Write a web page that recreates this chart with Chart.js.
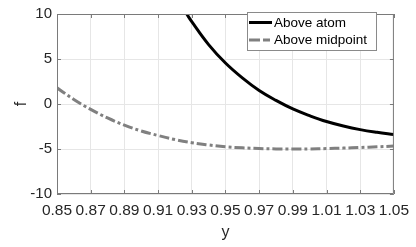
<!DOCTYPE html>
<html>
<head>
<meta charset="utf-8">
<script src="https://cdn.jsdelivr.net/npm/chart.js@4.4.1/dist/chart.umd.min.js"></script>
<style>
  body { margin: 0; background: #fff; }
  #wrap { width: 416px; height: 247px; }
</style>
</head>
<body>
<div id="wrap"><canvas id="chart"></canvas></div>
<script>
// values
const atomY = [0.927, 0.93, 0.94, 0.95, 0.96, 0.97, 0.98, 0.99, 1.00, 1.01, 1.02, 1.03, 1.04, 1.05];
const atomF = [10, 9.15, 6.6, 4.55, 2.9, 1.5, 0.4, -0.55, -1.3, -1.95, -2.45, -2.85, -3.15, -3.4];
const midY = [0.85, 0.86, 0.87, 0.88, 0.89, 0.90, 0.91, 0.92, 0.93, 0.94, 0.95, 0.96, 0.97, 0.98, 0.99, 1.00, 1.01, 1.02, 1.03, 1.04, 1.05];
const midF = [1.8, 0.5, -0.6, -1.55, -2.35, -3.0, -3.5, -3.95, -4.3, -4.55, -4.75, -4.87, -4.95, -4.99, -5.0, -4.99, -4.95, -4.9, -4.83, -4.76, -4.68];
const xTicks = [0.85, 0.87, 0.89, 0.91, 0.93, 0.95, 0.97, 0.99, 1.01, 1.03, 1.05];
const yTicks = [-10, -5, 0, 5, 10];
const seriesNames = ['Above atom', 'Above midpoint'];

const axisColor = '#7a7a7a';
const textColor = '#262626';
const font = 'Arial, "Liberation Sans", sans-serif';

function pts(xs, ys) {
    return xs.map((x, i) => ({ x: x, y: ys[i] }));
}

// box round the plot, inward ticks, legend
const boxPlugin = {
    id: 'box',
    afterDatasetsDraw(chart) {
        const ctx = chart.ctx;
        const a = chart.chartArea;
        const xs = chart.scales.x, ys = chart.scales.y;
        ctx.save();
        ctx.lineWidth = 1;
        ctx.strokeStyle = axisColor;
        ctx.beginPath();
        ctx.moveTo(a.left + 0.5, a.top + 0.5);
        ctx.lineTo(a.right - 0.5, a.top + 0.5);
        ctx.lineTo(a.right - 0.5, a.bottom - 0.5);
        ctx.lineTo(a.left + 0.5, a.bottom - 0.5);
        ctx.closePath();
        ctx.stroke();
        ctx.beginPath();
        xTicks.forEach(v => {
            const px = Math.round(xs.getPixelForValue(v)) + 0.5;
            ctx.moveTo(px, a.bottom); ctx.lineTo(px, a.bottom - 4);
            ctx.moveTo(px, a.top); ctx.lineTo(px, a.top + 4);
        });
        yTicks.forEach(v => {
            const py = Math.round(ys.getPixelForValue(v)) + 0.5;
            ctx.moveTo(a.left, py); ctx.lineTo(a.left + 4, py);
            ctx.moveTo(a.right, py); ctx.lineTo(a.right - 4, py);
        });
        ctx.stroke();

        // legend
        const lx = 247, ly = 12, lw = 129, lh = 38;
        ctx.fillStyle = '#fff';
        ctx.fillRect(lx, ly, lw, lh);
        ctx.strokeStyle = '#8a8a8a';
        ctx.strokeRect(lx + 0.5, ly + 0.5, lw, lh);
        ctx.font = '13.5px ' + font;
        ctx.textBaseline = 'middle';
        chart.data.datasets.forEach((ds, i) => {
            const cy = 22.5 + i * 17.5;
            ctx.strokeStyle = ds.borderColor;
            ctx.lineWidth = ds.borderWidth;
            ctx.setLineDash(i === 0 ? [] : [11, 3, 7, 3]);
            ctx.beginPath();
            ctx.moveTo(249, cy); ctx.lineTo(272, cy);
            ctx.stroke();
            ctx.setLineDash([]);
            ctx.fillStyle = '#000';
            ctx.fillText(ds.label, 274, cy + 0.5);
        });
        ctx.restore();
    }
};

new Chart(document.getElementById('chart'), {
    type: 'line',
    data: {
        datasets: [{
            label: seriesNames[0],
            data: pts(atomY, atomF),
            borderColor: '#000',
            borderWidth: 3,
            pointRadius: 0,
            tension: 0.4,
            fill: false
        }, {
            label: seriesNames[1],
            data: pts(midY, midF),
            borderColor: '#808080',
            borderWidth: 3,
            borderDash: [10, 3, 3, 3],
            pointRadius: 0,
            tension: 0.4,
            fill: false
        }]
    },
    options: {
        responsive: true,
        maintainAspectRatio: false,
        animation: false,
        layout: { padding: { top: 7, right: 20, left: 0, bottom: 0 } },
        plugins: {
            legend: { display: false },
            tooltip: { enabled: false }
        },
        scales: {
            x: {
                type: 'linear',
                min: 0.85,
                max: 1.05,
                afterBuildTicks: s => { s.ticks = xTicks.map(v => ({ value: v })); },
                afterFit: s => { s.height = 53; },
                border: { display: false },
                grid: { color: '#e6e6e6', drawTicks: false },
                ticks: {
                    padding: 7,
                    color: textColor,
                    maxRotation: 0,
                    autoSkip: false,
                    font: { family: font, size: 15.5 },
                    callback: v => v.toFixed(2)
                },
                title: {
                    display: true,
                    text: 'y',
                    color: textColor,
                    font: { family: font, size: 16 },
                    padding: { top: 0, bottom: 5 }
                }
            },
            y: {
                min: -10,
                max: 10,
                afterBuildTicks: s => { s.ticks = yTicks.map(v => ({ value: v })); },
                afterFit: s => { s.width = 57; },
                border: { display: false },
                grid: { color: '#e6e6e6', drawTicks: false },
                ticks: {
                    padding: 5,
                    color: textColor,
                    font: { family: font, size: 15 }
                },
                title: {
                    display: true,
                    text: 'f',
                    color: textColor,
                    font: { family: font, size: 16 },
                    padding: { top: 12, bottom: 0 }
                }
            }
        }
    },
    plugins: [boxPlugin]
});
</script>
</body>
</html>
